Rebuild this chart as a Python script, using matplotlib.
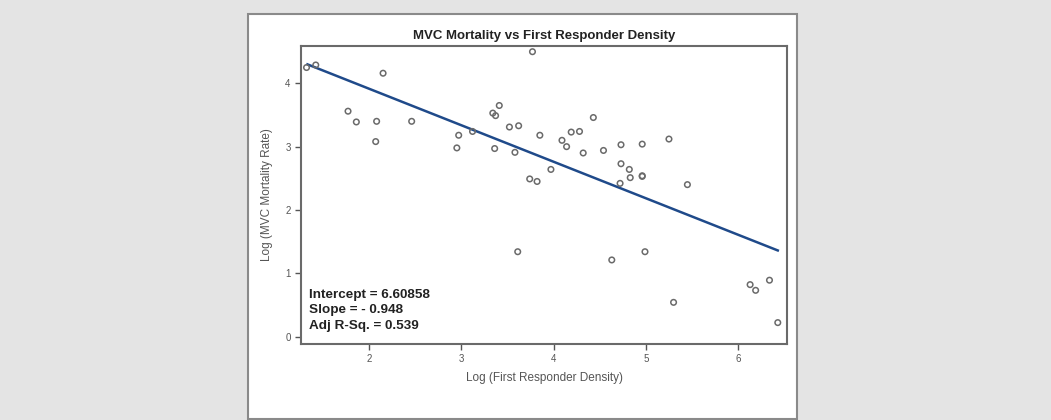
import numpy as np
import matplotlib
matplotlib.use("Agg")
import matplotlib.pyplot as plt
from matplotlib.patches import Rectangle

plt.rcParams['font.family'] = ['Liberation Sans', 'DejaVu Sans']

# data
log_density = [1.32, 1.42, 2.15, 1.77, 1.86, 2.08, 2.07, 2.46, 2.97, 2.95,
               3.12, 3.34, 3.37, 3.41, 3.36, 3.52, 3.62, 3.58, 3.77, 3.85,
               3.74, 3.82, 3.97, 4.43, 4.19, 4.28, 4.09, 4.14, 4.32, 4.54,
               4.73, 4.96, 5.25, 4.73, 4.82, 4.83, 4.96, 4.96, 4.72, 5.45,
               3.61, 4.63, 4.99, 5.30, 6.13, 6.19, 6.34, 6.43]
log_mortality = [4.25, 4.29, 4.16, 3.56, 3.39, 3.40, 3.08, 3.40, 3.18, 2.98,
                 3.24, 3.53, 3.49, 3.65, 2.97, 3.31, 3.33, 2.91, 4.50, 3.18,
                 2.49, 2.45, 2.64, 3.46, 3.23, 3.24, 3.10, 3.00, 2.90, 2.94,
                 3.03, 3.04, 3.12, 2.73, 2.64, 2.51, 2.53, 2.54, 2.42, 2.40,
                 1.34, 1.21, 1.34, 0.54, 0.82, 0.73, 0.89, 0.22]

# fitted line as drawn
fit_x = [1.33, 6.43]
fit_y = [4.30, 1.36]

stats_text = "Intercept = 6.60858\nSlope = - 0.948\nAdj R-Sq. = 0.539"

fig = plt.figure(figsize=(10.51, 4.2), dpi=100)
fig.patch.set_facecolor('#e4e4e4')

# white panel behind the chart
panel = Rectangle((248 / 1051, 1 / 420), 549 / 1051, 405 / 420,
                  transform=fig.transFigure, facecolor='white',
                  edgecolor='#8a8a8a', linewidth=1.5, zorder=-5)
fig.add_artist(panel)

ax = fig.add_axes([301 / 1051, 1 - 343.5 / 420, 486 / 1051, 297.5 / 420])
ax.set_zorder(5)
ax.set_facecolor('white')
ax.scatter(log_density, log_mortality, s=16, facecolors='none',
           edgecolors='#6a6a6a', linewidths=1.1, zorder=3)
ax.plot(fit_x, fit_y, color='#1f4a8a', linewidth=1.8, zorder=2)

ax.set_xlim(1.26, 6.53)
ax.set_ylim(-0.11, 4.59)
ax.set_xticks([2, 3, 4, 5, 6])
ax.set_yticks([0, 1, 2, 3, 4])
ax.tick_params(direction='out', length=4, width=1, colors='#555555',
               labelsize=7, labelcolor='#555555')
for sp in ax.spines.values():
    sp.set_color('#6a6a6a')
    sp.set_linewidth(1.5)

ax.set_title("MVC Mortality vs First Responder Density", fontsize=9.5,
             fontweight='bold', color='#222222', pad=5)
ax.set_xlabel("Log (First Responder Density)", fontsize=8.5, color='#555555',
              labelpad=6)
ax.set_ylabel("Log (MVC Mortality Rate)", fontsize=8.5, color='#555555',
              labelpad=9)

ax.text(0.016, 0.04, stats_text, transform=ax.transAxes, fontsize=9.7,
        fontweight='bold', color='#222222', va='bottom', ha='left',
        linespacing=1.35)

fig.savefig("out.png", dpi=100, facecolor=fig.get_facecolor())
